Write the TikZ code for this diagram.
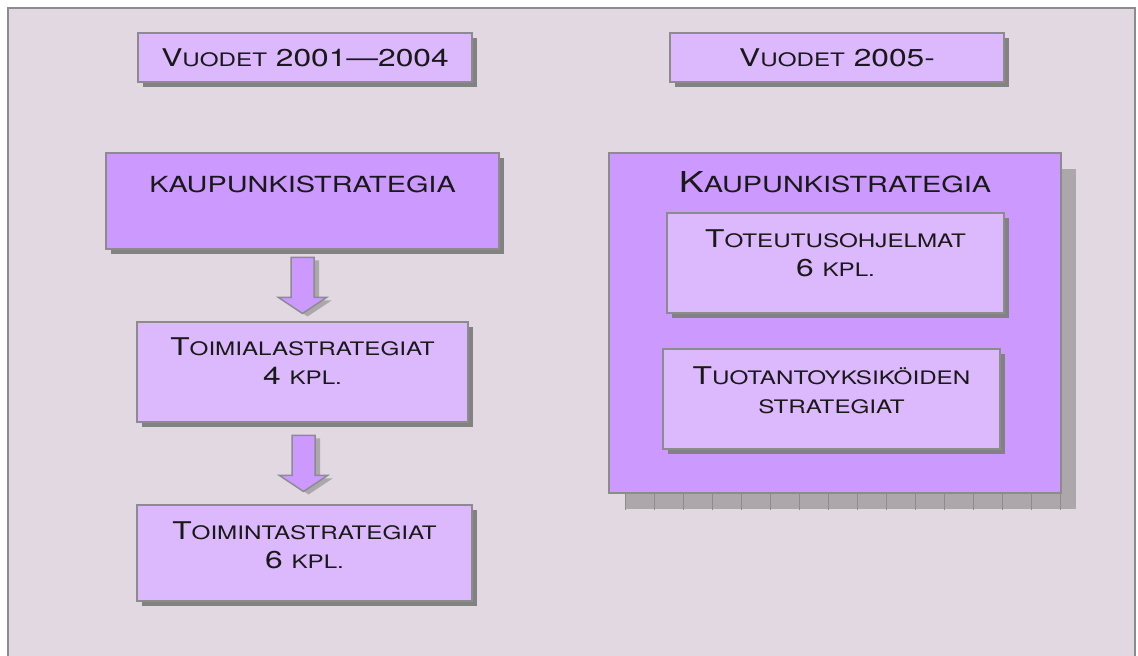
\documentclass[tikz,border=0pt]{standalone}
\usepackage{fontspec}
\setmainfont{TeX Gyre Heros}[FakeStretch=1.3]
\usetikzlibrary{shadows,calc}

\definecolor{bgframe}{HTML}{E1D8E1}
\definecolor{lilac}{HTML}{DCB8FC}
\definecolor{violet}{HTML}{CC99FF}
\definecolor{edgegray}{HTML}{8C8C8C}
\definecolor{shadegray}{HTML}{828282}
\definecolor{texgray}{HTML}{ABA7AB}
\definecolor{gridgray}{HTML}{8E8A8E}

% small caps by hand
\newcommand{\smc}[1]{{\fontsize{9.3}{14.5}\selectfont #1}}
\newcommand{\bigsmc}[1]{{\fontsize{11.1}{14.5}\selectfont #1}}

\tikzset{
  box/.style={draw=edgegray, line width=0.75pt, inner sep=0pt,
    drop shadow={shadow xshift=2.5pt, shadow yshift=-2.5pt, fill=shadegray, opacity=1}},
  lightbox/.style={box, fill=lilac},
  darkbox/.style={box, fill=violet},
  darkfill/.style={draw=edgegray, line width=1pt, fill=violet, inner sep=0pt},
  boxtext/.style={align=center, inner sep=0pt, text=black!90,
    font=\fontsize{12.2}{14.5}\selectfont},
  blockarrow/.style={fill=violet, draw=edgegray, line width=0.75pt, line join=miter,
    drop shadow={shadow xshift=2.5pt, shadow yshift=-1.5pt, fill=texgray, opacity=1}},
  gridline/.style={draw=gridgray, line width=0.5pt}
}

\begin{document}
\begin{tikzpicture}[x=0.5pt, y=-0.5pt]
  \useasboundingbox (0,0) rectangle (1138,656);

  % Frame
  \fill[white] (0,0) rectangle (1138,656);
  \fill[bgframe] (8,8) rectangle (1135,660);
  \draw[edgegray, line width=1pt] (8,660) -- (8,8) -- (1135,8) -- (1135,660);

  % Years
  \node[lightbox, boxtext, minimum width=167pt, minimum height=24.5pt] (y1) at (305,57.5) {V\smc{UODET} 2001—2004};
  \node[lightbox, boxtext, minimum width=167pt, minimum height=24.5pt] (y2) at (837,57.5) {V\smc{UODET} 2005-};

  % Left column
  \node[darkbox, minimum width=196.5pt, minimum height=48pt] (ks) at (302.5,201) {};
  \node[boxtext, anchor=north] (ks-t) at ([yshift=-11.5pt]ks.north) {\bigsmc{KAUPUNKISTRATEGIA}};
  \node[lightbox, minimum width=165.5pt, minimum height=50pt] (ta) at (302.5,372) {};
  \node[boxtext, anchor=north] (ta-t) at ([yshift=-8pt]ta.north) {T\smc{OIMIALASTRATEGIAT}\\4 \smc{KPL.}};
  \node[lightbox, minimum width=167.5pt, minimum height=48pt] (tt) at (304.5,553) {};
  \node[boxtext, anchor=north] (tt-t) at ([yshift=-8.5pt]tt.north) {T\smc{OIMINTASTRATEGIAT}\\6 \smc{KPL.}};

  % Arrows
  \foreach \from/\to in {ks/ta, ta/tt} {
    \coordinate (m) at ($(\from.south)!0.5!(\to.north)$);
    \path[blockarrow] ($(m)+(-11.5,-28)$) -- ($(m)+(11.5,-28)$) -- ($(m)+(11.5,12)$)
      -- ($(m)+(24,12)$) -- ($(m)+(0,28)$) -- ($(m)+(-24,12)$) -- ($(m)+(-11.5,12)$) -- cycle;
  }

  % Right column, textured shadow
  \begin{scope}
    \clip (625,169) rectangle (1076,509);
    \fill[texgray] (625,169) rectangle (1076,509);
    \draw[gridline, shift={(654,198)}] (-58,-58) grid[step=29] (435,319);
  \end{scope}
  \node[darkfill, minimum width=226pt, minimum height=170pt] (kr) at (835,323) {};
  \node[boxtext, anchor=north] (kr-t) at ([yshift=-9.5pt]kr.north) {{\fontsize{14.4}{16}\selectfont K}\bigsmc{AUPUNKISTRATEGIA}};
  \node[lightbox, minimum width=168.5pt, minimum height=50pt] (to) at (835.5,263) {};
  \node[boxtext, anchor=north] (to-t) at ([yshift=-8.5pt]to.north) {T\smc{OTEUTUSOHJELMAT}\\6 \smc{KPL.}};
  \node[lightbox, minimum width=168.5pt, minimum height=50pt] (tu) at (831.5,399) {};
  \node[boxtext, anchor=north] (tu-t) at ([yshift=-9pt]tu.north) {T\smc{UOTANTOYKSIKÖIDEN}\\\smc{STRATEGIAT}};
\end{tikzpicture}
\end{document}
